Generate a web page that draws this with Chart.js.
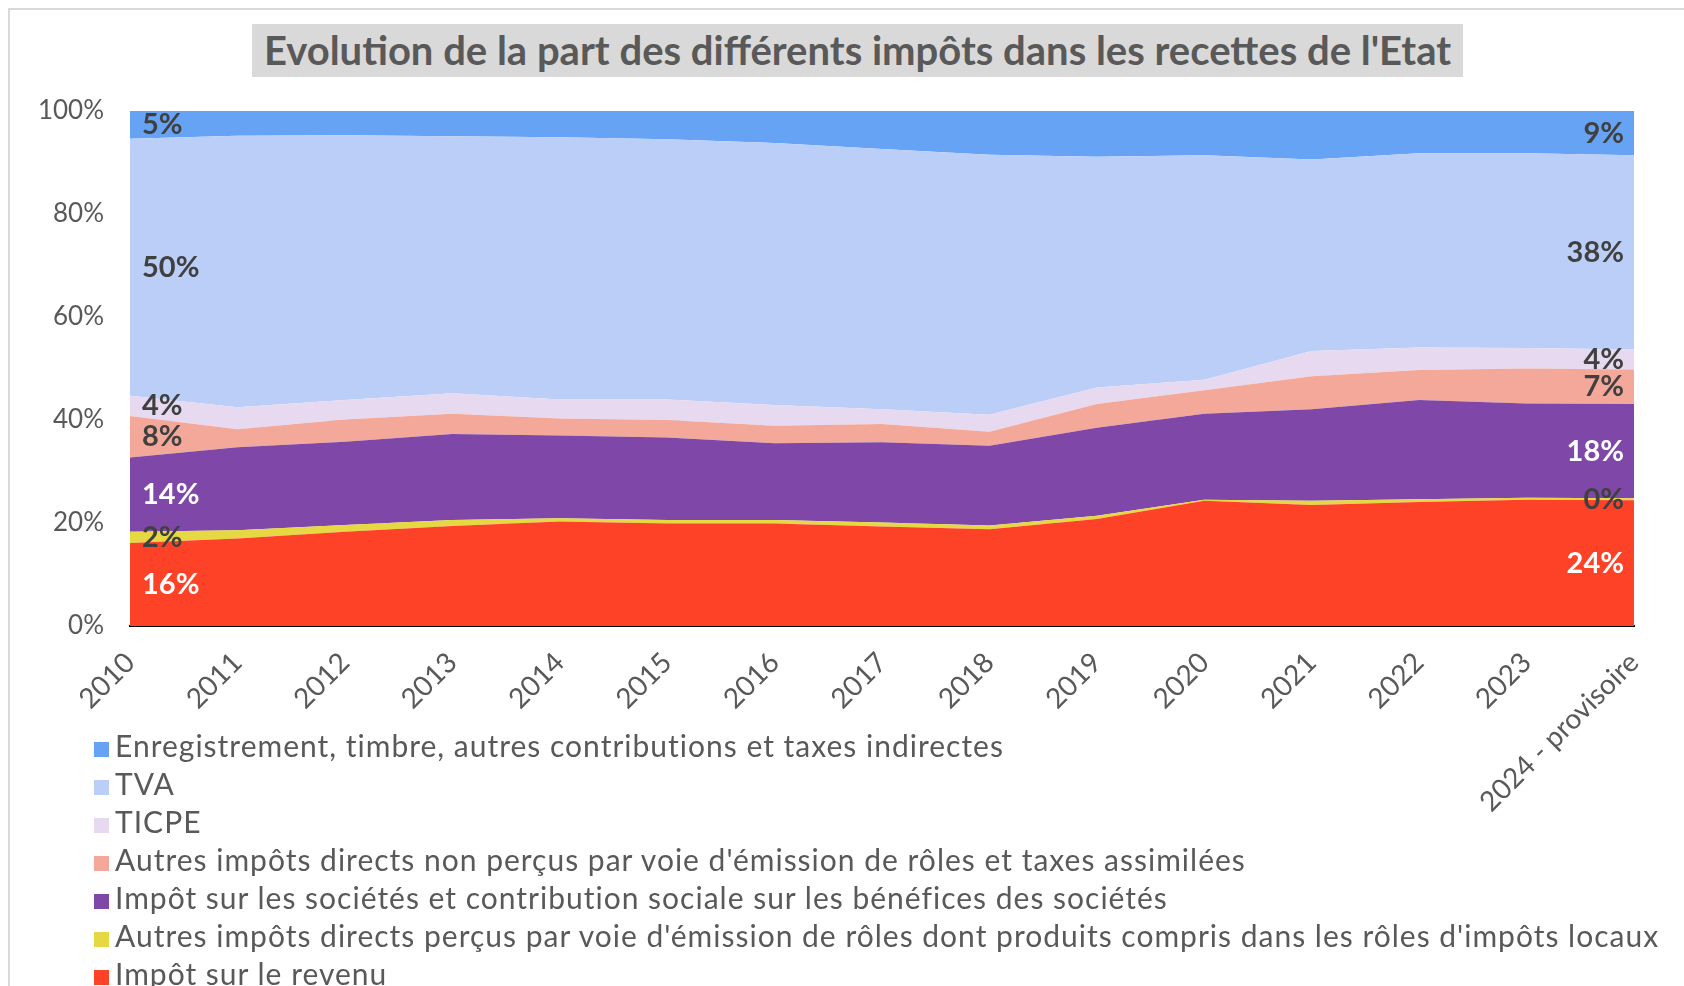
<!DOCTYPE html>
<html lang="fr">
<head>
<meta charset="UTF-8">
<title>Evolution de la part des différents impôts dans les recettes de l'Etat</title>
<script src="https://cdn.jsdelivr.net/npm/chart.js"></script>
<style>
  body { margin: 0; background: #fff; font-family: Lato, "Noto Sans", sans-serif; overflow: hidden; }
  .wrap { position: relative; width: 1684px; height: 986px; overflow: hidden; }
  .frame { position: absolute; left: 8px; top: 8px; width: 1720px; height: 1020px; border: 2px solid #d9d9d9; }
  .title { position: absolute; left: 252px; top: 24px; width: 1211px; height: 53px; background: #d9d9d9;
           color: #595959; font-weight: bold; font-size: 40px; line-height: 53px; text-align: center; white-space: nowrap; }
  canvas { position: absolute; left: 0; top: 0; }
  #legend { position: absolute; left: 94px; top: 726px; color: #595959; font-size: 30px; letter-spacing: 1px; }
  #legend div { height: 38px; line-height: 38px; white-space: nowrap; }
  #legend .box { display: inline-block; width: 15px; height: 15px; margin-right: 6px; }
</style>
</head>
<body>
<div class="wrap">
  <div class="frame"></div>
  <canvas id="chart" width="1684" height="986"></canvas>
  <div class="title">Evolution de la part des différents impôts dans les recettes de l'Etat</div>
  <div id="legend"></div>
</div>
<script>
// categories
const years = ['2010', '2011', '2012', '2013', '2014', '2015', '2016', '2017', '2018', '2019',
  '2020', '2021', '2022', '2023', '2024 - provisoire'];

// parts in %, bottom of the stack first
const impotRevenu     = [16.1, 17.0, 18.3, 19.4, 20.3, 19.9, 19.9, 19.3, 18.8, 20.8, 24.3, 23.5, 24.1, 24.5, 24.4];
const autresPercus    = [2.2, 1.6, 1.3, 1.2, 0.6, 0.7, 0.7, 0.8, 0.7, 0.6, 0.2, 0.8, 0.5, 0.4, 0.4];
const impotSocietes   = [14.4, 16.1, 16.2, 16.7, 16.1, 16.0, 14.9, 15.6, 15.5, 17.1, 16.7, 17.8, 19.3, 18.3, 18.3];
const autresNonPercus = [8.1, 3.5, 4.3, 3.9, 3.3, 3.4, 3.4, 3.5, 2.7, 4.6, 4.6, 6.4, 5.8, 6.8, 6.7];
const ticpe           = [3.9, 4.3, 3.8, 4.0, 3.7, 4.0, 4.0, 2.9, 3.3, 3.2, 2.0, 4.9, 4.4, 4.0, 3.9];
const tva             = [49.9, 52.7, 51.4, 49.9, 50.9, 50.5, 50.9, 50.5, 50.5, 44.8, 43.6, 37.2, 37.7, 37.8, 37.7];
const enregistrement  = [5.4, 4.8, 4.7, 4.9, 5.1, 5.5, 6.2, 7.4, 8.5, 8.9, 8.6, 9.4, 8.2, 8.2, 8.6];

const yTicks = [0, 20, 40, 60, 80, 100];

const series = [
  { label: 'Impôt sur le revenu', data: impotRevenu, color: '#fe4228', text: '#ffffff' },
  { label: "Autres impôts directs perçus par voie d'émission de rôles dont produits compris dans les rôles d'impôts locaux", data: autresPercus, color: '#e5d843', text: '#404040' },
  { label: 'Impôt sur les sociétés et contribution sociale sur les bénéfices des sociétés', data: impotSocietes, color: '#7f47a8', text: '#ffffff' },
  { label: "Autres impôts directs non perçus par voie d'émission de rôles et taxes assimilées", data: autresNonPercus, color: '#f4a89a', text: '#404040' },
  { label: 'TICPE', data: ticpe, color: '#e6d9f0', text: '#404040' },
  { label: 'TVA', data: tva, color: '#bacef7', text: '#404040' },
  { label: 'Enregistrement, timbre, autres contributions et taxes indirectes', data: enregistrement, color: '#67a3f4', text: '#404040' }
];

// first / last value of each band, written in the middle of the band
const bandLabels = {
  id: 'bandLabels',
  afterDatasetsDraw(chart) {
    const { ctx, chartArea } = chart;
    const zero = chart.scales.y.getPixelForValue(0);
    ctx.save();
    ctx.font = 'bold 29px Lato';
    ctx.textBaseline = 'middle';
    chart.data.datasets.forEach((ds, i) => {
      const meta = chart.getDatasetMeta(i);
      const last = ds.data.length - 1;
      [0, last].forEach(j => {
        const top = meta.data[j].y;
        const base = i === 0 ? zero : chart.getDatasetMeta(i - 1).data[j].y;
        const y = (top + base) / 2;
        const txt = Math.round(ds.data[j]) + '%';
        ctx.fillStyle = ds.labelColor;
        if (j === 0) {
          ctx.textAlign = 'left';
          ctx.fillText(txt, chartArea.left + 12, y);
        } else {
          ctx.textAlign = 'right';
          ctx.fillText(txt, chartArea.right - 10, y);
        }
      });
    });
    ctx.restore();
  }
};

const chart = new Chart(document.getElementById('chart').getContext('2d'), {
  type: 'line',
  data: {
    labels: years,
    datasets: series.map((s, i) => ({
      label: s.label,
      data: s.data,
      backgroundColor: s.color,
      borderColor: s.color,
      borderWidth: 0,
      pointRadius: 0,
      tension: 0,
      fill: i === 0 ? 'origin' : '-1',
      labelColor: s.text
    }))
  },
  options: {
    responsive: false,
    animation: false,
    devicePixelRatio: 1,
    layout: { padding: { top: 111, right: 50, bottom: 0, left: 0 } },
    plugins: {
      legend: { display: false },
      title: { display: false },
      tooltip: { enabled: false }
    },
    scales: {
      x: {
        offset: false,
        grid: { display: false },
        border: { color: '#000000', width: 2 },
        ticks: {
          autoSkip: false,
          minRotation: 45,
          maxRotation: 45,
          padding: 12,
          color: '#595959',
          font: { family: 'Lato', size: 28 }
        },
        afterFit: s => { s.height = 360; }
      },
      y: {
        stacked: true,
        min: 0,
        max: 100,
        afterBuildTicks: s => { s.ticks = yTicks.map(v => ({ value: v })); },
        grid: { color: '#d9d9d9', drawTicks: false },
        border: { display: false },
        ticks: {
          padding: 26,
          color: '#595959',
          font: { family: 'Lato', size: 26 },
          callback: v => v + '%'
        },
        afterFit: s => { s.width = 130; }
      }
    }
  },
  plugins: [bandLabels]
});

// legend, top band first like the original
const legend = document.getElementById('legend');
series.slice().reverse().forEach(s => {
  const row = document.createElement('div');
  const box = document.createElement('span');
  box.className = 'box';
  box.style.background = s.color;
  row.appendChild(box);
  row.appendChild(document.createTextNode(s.label));
  legend.appendChild(row);
});
</script>
</body>
</html>
